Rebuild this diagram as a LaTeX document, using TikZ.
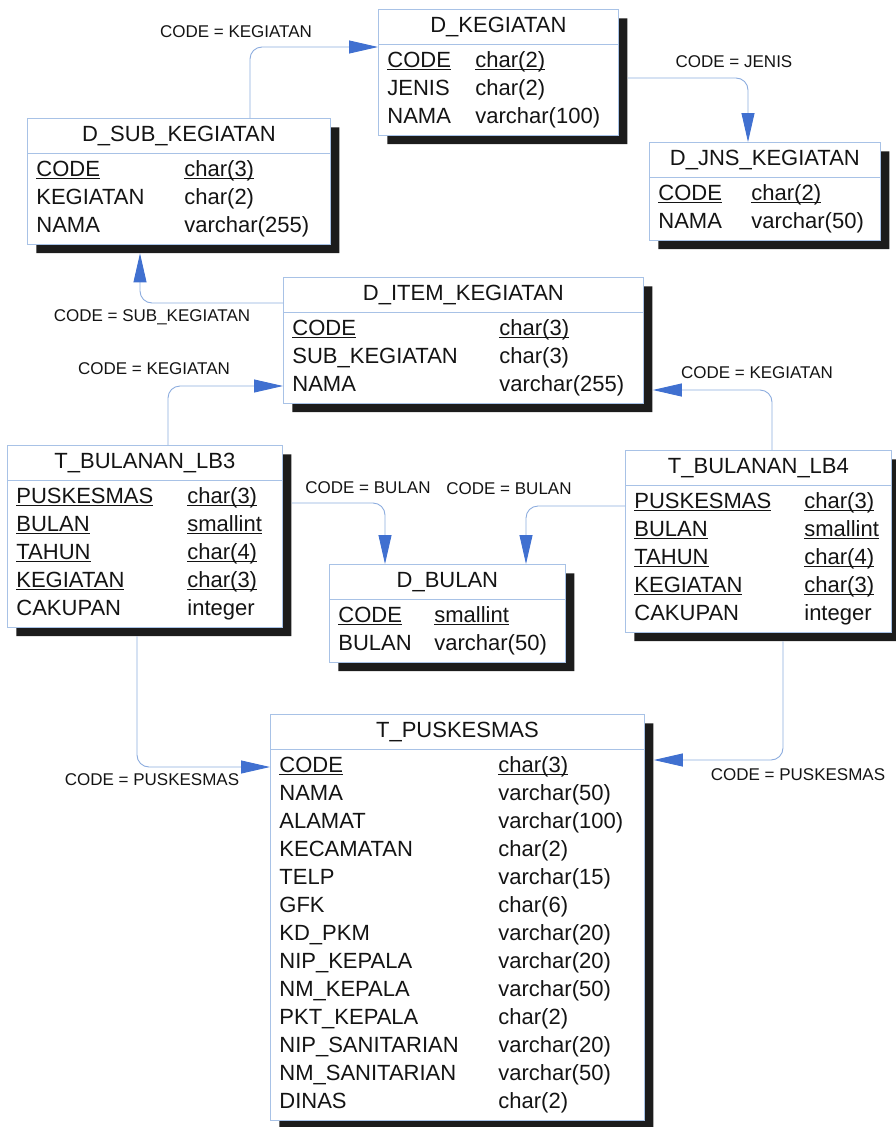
\documentclass[tikz,border=0pt]{standalone}
\usepackage{fontspec}
\setmainfont{Liberation Sans}
\usepackage{xcolor}
\definecolor{erline}{RGB}{168,194,230}
\definecolor{erlink}{RGB}{140,172,222}
\definecolor{ertip}{RGB}{64,112,208}
\definecolor{ershade}{RGB}{28,28,28}
\definecolor{ertext}{RGB}{20,20,20}
\usepackage{tikz}
\usetikzlibrary{shapes.multipart,shadows,arrows.meta}
\newcommand{\tblfont}{\fontsize{22}{28}\selectfont}
\newcommand{\lblfont}{\fontsize{17}{20}\selectfont}
\newcommand{\ukey}[1]{\leavevmode\setbox0\hbox{#1}\rlap{\rule[-3pt]{\wd0}{1.3pt}}\box0}
\newcommand{\tblhead}[2]{\makebox[#1]{\strut #2}}
\newcommand{\tblrows}[3]{\begin{tabular}{@{\hspace{9pt}}p{#2}@{}p{\dimexpr#1-9pt-#2\relax}@{}}#3\end{tabular}}
\tikzset{
  tbl/.style={draw=erline, fill=white, line width=0.8pt, rectangle split, rectangle split parts=2,
    inner xsep=0pt, inner ysep=3pt, anchor=north west, font=\tblfont, text=ertext,
    drop shadow={shadow xshift=9pt, shadow yshift=-9pt, opacity=1, fill=ershade}},
  fk/.style={draw=erlink, line width=0.9pt, rounded corners=12pt, -{Triangle[length=29pt,width=13pt,color=ertip,fill=ertip]}},
  lbl/.style={font=\lblfont, text=ertext}
}

\begin{document}
\begin{tikzpicture}[x=1pt, y=-1pt]
  \useasboundingbox (0,0) rectangle (896,1127);
  % tables
  \node[tbl] (dkeg) at (378,9) {\tblhead{240pt}{D\_KEGIATAN}\nodepart{two}\tblrows{240pt}{88pt}{%
    \ukey{CODE} & \ukey{char(2)}\\ JENIS & char(2)\\ NAMA & varchar(100)}};
  \node[tbl] (dsub) at (27,118) {\tblhead{303pt}{D\_SUB\_KEGIATAN}\nodepart{two}\tblrows{303pt}{148pt}{%
    \ukey{CODE} & \ukey{char(3)}\\ KEGIATAN & char(2)\\ NAMA & varchar(255)}};
  \node[tbl] (djns) at (649,142) {\tblhead{231pt}{D\_JNS\_KEGIATAN}\nodepart{two}\tblrows{231pt}{93pt}{%
    \ukey{CODE} & \ukey{char(2)}\\ NAMA & varchar(50)}};
  \node[tbl] (ditem) at (283,277) {\tblhead{360pt}{D\_ITEM\_KEGIATAN}\nodepart{two}\tblrows{360pt}{207pt}{%
    \ukey{CODE} & \ukey{char(3)}\\ SUB\_KEGIATAN & char(3)\\ NAMA & varchar(255)}};
  \node[tbl] (lb3) at (7,445) {\tblhead{275pt}{T\_BULANAN\_LB3}\nodepart{two}\tblrows{275pt}{171pt}{%
    \ukey{PUSKESMAS} & \ukey{char(3)}\\ \ukey{BULAN} & \ukey{smallint}\\ \ukey{TAHUN} & \ukey{char(4)}\\
    \ukey{KEGIATAN} & \ukey{char(3)}\\ CAKUPAN & integer}};
  \node[tbl] (lb4) at (625,450) {\tblhead{266pt}{T\_BULANAN\_LB4}\nodepart{two}\tblrows{266pt}{170pt}{%
    \ukey{PUSKESMAS} & \ukey{char(3)}\\ \ukey{BULAN} & \ukey{smallint}\\ \ukey{TAHUN} & \ukey{char(4)}\\
    \ukey{KEGIATAN} & \ukey{char(3)}\\ CAKUPAN & integer}};
  \node[tbl] (dbulan) at (329,564) {\tblhead{236pt}{D\_BULAN}\nodepart{two}\tblrows{236pt}{96pt}{%
    \ukey{CODE} & \ukey{smallint}\\ BULAN & varchar(50)}};
  \node[tbl] (tpusk) at (270,714) {\tblhead{374pt}{T\_PUSKESMAS}\nodepart{two}\tblrows{374pt}{219pt}{%
    \ukey{CODE} & \ukey{char(3)}\\ NAMA & varchar(50)\\ ALAMAT & varchar(100)\\ KECAMATAN & char(2)\\
    TELP & varchar(15)\\ GFK & char(6)\\ KD\_PKM & varchar(20)\\ NIP\_KEPALA & varchar(20)\\
    NM\_KEPALA & varchar(50)\\ PKT\_KEPALA & char(2)\\ NIP\_SANITARIAN & varchar(20)\\
    NM\_SANITARIAN & varchar(50)\\ DINAS & char(2)}};
  % references
  \draw[fk] ([xshift=223pt]dsub.north west) |- ([yshift=-38pt]dkeg.north west);
  \draw[fk] ([xshift=9pt,yshift=-69pt]dkeg.north east) -| ([xshift=99pt]djns.north west);
  \draw[fk] ([yshift=-26pt]ditem.north west) -| ([xshift=113pt,yshift=-9pt]dsub.south west);
  \draw[fk] ([xshift=161pt]lb3.north west) |- ([yshift=-109pt]ditem.north west);
  \draw[fk] ([xshift=147pt]lb4.north west) |- ([xshift=9pt,yshift=-113pt]ditem.north east);
  \draw[fk] ([xshift=9pt,yshift=-58pt]lb3.north east) -| ([xshift=56pt]dbulan.north west);
  \draw[fk] ([yshift=-56pt]lb4.north west) -| ([xshift=197pt]dbulan.north west);
  \draw[fk] ([xshift=130pt,yshift=-9pt]lb3.south west) |- ([yshift=-53pt]tpusk.north west);
  \draw[fk] ([xshift=158pt,yshift=-9pt]lb4.south west) |- ([xshift=9pt,yshift=-46pt]tpusk.north east);
  % join labels
  \node[lbl] (l1) at (236,32) {CODE = KEGIATAN};
  \node[lbl] (l2) at (734,62) {CODE = JENIS};
  \node[lbl] (l3) at (152,317) {CODE = SUB\_KEGIATAN};
  \node[lbl] (l4) at (154,369) {CODE = KEGIATAN};
  \node[lbl] (l5) at (757,373) {CODE = KEGIATAN};
  \node[lbl] (l6) at (368,488) {CODE = BULAN};
  \node[lbl] (l7) at (509,489) {CODE = BULAN};
  \node[lbl] (l8) at (152,780) {CODE = PUSKESMAS};
  \node[lbl] (l9) at (798,775) {CODE = PUSKESMAS};
\end{tikzpicture}
\end{document}
